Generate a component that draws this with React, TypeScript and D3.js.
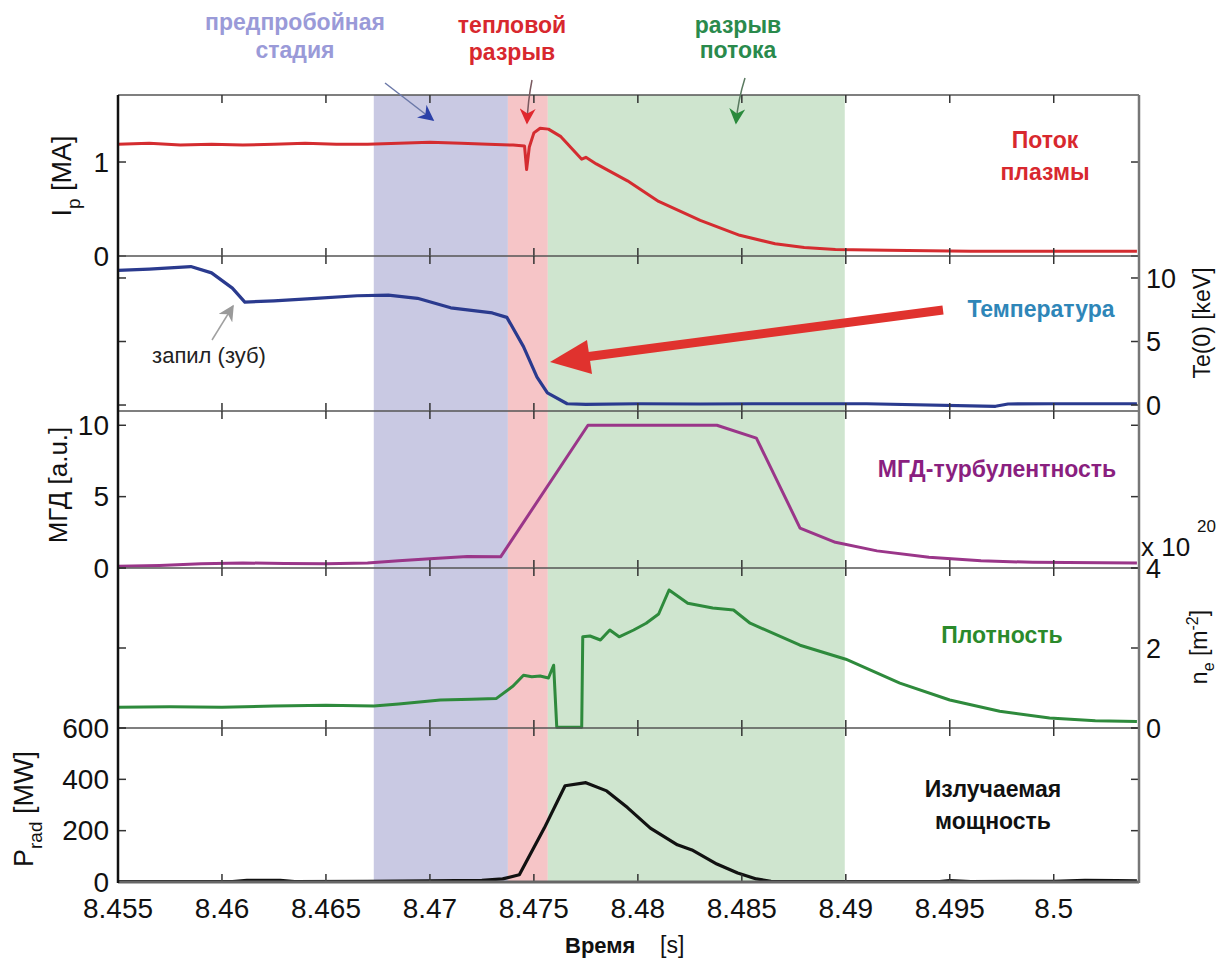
import React from 'react';
import * as d3 from 'd3';

// time axis
const timeDomain = [8.455, 8.5041];
const timeTicks = [8.455, 8.46, 8.465, 8.47, 8.475, 8.48, 8.485, 8.49, 8.495, 8.5];

// disruption phases: pre-disruption, thermal quench, current quench
const phaseStart = [8.4673, 8.47375, 8.47567];
const phaseEnd = [8.47375, 8.47567, 8.48995];
const phaseFill = ['#c9c9e3', '#f6c5c7', '#cfe5cf'];

// plasma current Ip [MA]
const ipTime = [8.455, 8.4565, 8.458, 8.4595, 8.461, 8.4625, 8.464, 8.4655, 8.467, 8.4685, 8.47, 8.4715, 8.4728, 8.474, 8.47455, 8.47465, 8.47478, 8.475, 8.4753, 8.4757, 8.4763, 8.477, 8.4773, 8.4775, 8.478, 8.4795, 8.481, 8.483, 8.4849, 8.4866, 8.488, 8.4895, 8.492, 8.496, 8.5, 8.504];
const ipValue = [1.19, 1.2, 1.18, 1.19, 1.18, 1.19, 1.2, 1.19, 1.19, 1.2, 1.21, 1.2, 1.19, 1.18, 1.17, 0.92, 1.16, 1.31, 1.36, 1.35, 1.27, 1.1, 1.03, 1.05, 0.98, 0.8, 0.58, 0.38, 0.22, 0.13, 0.09, 0.07, 0.06, 0.05, 0.05, 0.05];

// central electron temperature Te(0) [keV]
const teTime = [8.455, 8.4565, 8.4585, 8.4595, 8.4605, 8.4611, 8.4625, 8.4645, 8.4665, 8.468, 8.4694, 8.471, 8.473, 8.4737, 8.4745, 8.47515, 8.47565, 8.4766, 8.4775, 8.48, 8.483, 8.4855, 8.4875, 8.491, 8.4972, 8.4978, 8.5, 8.504];
const teValue = [10.6, 10.7, 10.9, 10.4, 9.2, 8.1, 8.2, 8.4, 8.6, 8.65, 8.4, 7.65, 7.25, 6.9, 4.6, 2.2, 0.95, 0.1, 0.05, 0.1, 0.08, 0.1, 0.1, 0.1, -0.1, 0.08, 0.1, 0.1];

// MHD activity [a.u.]
const mhdTime = [8.455, 8.457, 8.459, 8.461, 8.463, 8.465, 8.467, 8.4685, 8.47, 8.4718, 8.4734, 8.4776, 8.4838, 8.4857, 8.4878, 8.4895, 8.4915, 8.494, 8.4965, 8.499, 8.504];
const mhdValue = [0.12, 0.18, 0.3, 0.35, 0.32, 0.3, 0.35, 0.5, 0.65, 0.8, 0.78, 10.0, 10.0, 9.1, 2.8, 1.8, 1.2, 0.75, 0.5, 0.4, 0.35];

// line density ne [1e20 m^-2]
const neTime = [8.455, 8.4575, 8.46, 8.4625, 8.465, 8.4673, 8.4685, 8.4695, 8.4705, 8.472, 8.4732, 8.474, 8.4745, 8.4749, 8.4753, 8.4757, 8.47595, 8.4761, 8.4773, 8.47735, 8.4777, 8.4782, 8.47865, 8.4791, 8.4798, 8.4804, 8.481, 8.4815, 8.4824, 8.4836, 8.4846, 8.4854, 8.4878, 8.49, 8.4926, 8.495, 8.4974, 8.4998, 8.502, 8.504];
const neValue = [0.52, 0.53, 0.52, 0.55, 0.57, 0.55, 0.6, 0.65, 0.7, 0.72, 0.74, 1.05, 1.32, 1.28, 1.3, 1.25, 1.57, 0.02, 0.02, 2.28, 2.3, 2.2, 2.45, 2.28, 2.45, 2.62, 2.85, 3.45, 3.12, 3.0, 2.95, 2.62, 2.07, 1.72, 1.12, 0.7, 0.42, 0.25, 0.18, 0.16];

// radiated power Prad [MW]
const pTime = [8.455, 8.4605, 8.4612, 8.4628, 8.4635, 8.467, 8.47, 8.4725, 8.4735, 8.4743, 8.4755, 8.4765, 8.4775, 8.4785, 8.4795, 8.4806, 8.4819, 8.4826, 8.4838, 8.4848, 8.4857, 8.4864, 8.49, 8.4945, 8.495, 8.496, 8.5, 8.5015, 8.503, 8.504];
const pValue = [2, 2, 6, 6, 2, 3, 4, 6, 12, 28, 210, 375, 387, 355, 290, 210, 145, 125, 70, 35, 12, 3, 2, 2, 5, 2, 3, 6, 5, 4];

const ipTicks = [0, 1];
const teTicks = [0, 5, 10];
const mhdTicks = [0, 5, 10];
const neTicks = [0, 2, 4];
const pTicks = [0, 200, 400, 600];

const font = '"Liberation Sans", Arial, sans-serif';
const L = 118;
const R = 1139;

const App = () => {
  const x = d3.scaleLinear().domain(timeDomain).range([L, R]);

  const panels = [
    { top: 95, bottom: 256, domain: [0, 1.713], ticks: ipTicks, side: 'left', color: '#d42c30', width: 3, time: ipTime, value: ipValue },
    { top: 256, bottom: 411, domain: [-0.47, 11.73], ticks: teTicks, side: 'right', color: '#2a3a8e', width: 3.2, time: teTime, value: teValue },
    { top: 411, bottom: 568, domain: [0, 11], ticks: mhdTicks, side: 'left', color: '#9a3689', width: 3, time: mhdTime, value: mhdValue },
    { top: 568, bottom: 728, domain: [0, 4], ticks: neTicks, side: 'right', color: '#2e8a3c', width: 3, time: neTime, value: neValue },
    { top: 728, bottom: 882, domain: [0, 600], ticks: pTicks, side: 'left', color: '#111111', width: 3.2, time: pTime, value: pValue },
  ];

  const tick = 8;

  return (
    <svg width={1227} height={958} style={{ position: 'absolute', left: 0, top: 0, background: '#fff' }} fontFamily={font}>
      <defs>
        {[['hb', '#2b40a8'], ['hr', '#e0282e'], ['hg', '#2a8a3c'], ['hk', '#9a9a9a']].map(([id, c]) => (
          <marker key={id} id={id} viewBox="0 0 10 10" refX={9} refY={5} markerWidth={16} markerHeight={16} markerUnits="userSpaceOnUse" orient="auto">
            <path d="M0,0 L10,5 L0,10 L3,5 z" fill={c} />
          </marker>
        ))}
      </defs>

      {/* phase shading */}
      {phaseStart.map((s, i) => (
        <rect key={i} x={x(s)} y={95} width={x(phaseEnd[i]) - x(s)} height={882 - 95} fill={phaseFill[i]} />
      ))}

      {panels.map((p, pi) => {
        const y = d3.scaleLinear().domain(p.domain).range([p.bottom, p.top]);
        const line = d3.line<number>().x((_, i) => x(p.time[i])).y(d => y(d));
        return (
          <g key={pi}>
            <path d={line(p.value) || ''} fill="none" stroke={p.color} strokeWidth={p.width} strokeLinejoin="round" />
            {/* panel top border */}
            <line x1={L} x2={R} y1={p.top} y2={p.top} stroke="#555" strokeWidth={1.5} />
            {/* x ticks at top and bottom of panel */}
            {timeTicks.map((t, i) => (
              <g key={i} stroke="#333" strokeWidth={1.5}>
                <line x1={x(t)} x2={x(t)} y1={p.top} y2={p.top + tick} />
                <line x1={x(t)} x2={x(t)} y1={p.bottom} y2={p.bottom - tick} />
              </g>
            ))}
            {/* y ticks both sides */}
            {p.ticks.map((v, i) => (
              <g key={i}>
                <line x1={L} x2={L + tick} y1={y(v)} y2={y(v)} stroke="#333" strokeWidth={1.5} />
                <line x1={R} x2={R - tick} y1={y(v)} y2={y(v)} stroke="#333" strokeWidth={1.5} />
                {p.side === 'left' ? (
                  <text x={L - 9} y={y(v)} dy="0.34em" textAnchor="end" fontSize={28} fill="#111">{v}</text>
                ) : (
                  <text x={R + 7} y={y(v)} dy="0.36em" textAnchor="start" fontSize={27} fill="#111">{v}</text>
                )}
              </g>
            ))}
          </g>
        );
      })}

      {/* frame */}
      <line x1={L} x2={R} y1={882} y2={882} stroke="#666" strokeWidth={3} />
      <line x1={L} x2={L} y1={95} y2={883} stroke="#111" strokeWidth={2.5} />
      <line x1={R} x2={R} y1={95} y2={883} stroke="#777" strokeWidth={2.5} />

      {/* x tick labels */}
      {timeTicks.map((t, i) => (
        <text key={i} x={x(t)} y={918} textAnchor="middle" fontSize={28} fill="#111">{String(t)}</text>
      ))}
      <text x={565} y={953} fontSize={22} fontWeight="bold" fill="#111">Время</text>
      <text x={660} y={953} fontSize={23} fill="#111">[s]</text>

      {/* left axis labels */}
      <text transform="translate(71,176) rotate(-90)" textAnchor="middle" fontSize={27} fill="#111">
        I<tspan dy={9} fontSize={19}>p</tspan><tspan dy={-9}> [MA]</tspan>
      </text>
      <text transform="translate(67,485) rotate(-90)" textAnchor="middle" fontSize={26} fill="#111">МГД [a.u.]</text>
      <text transform="translate(33,809) rotate(-90)" textAnchor="middle" fontSize={27} fill="#111">
        P<tspan dy={9} fontSize={19}>rad</tspan><tspan dy={-9}> [MW]</tspan>
      </text>

      {/* right axis labels */}
      <text transform="translate(1210,323) rotate(-90)" textAnchor="middle" fontSize={23} fill="#111">Te(0) [keV]</text>
      <text transform="translate(1207,647) rotate(-90)" textAnchor="middle" fontSize={23} fill="#111">
        n<tspan dy={7} fontSize={16}>e</tspan><tspan dy={-7}> [m</tspan><tspan dy={-9} fontSize={16}>-2</tspan><tspan dy={9}>]</tspan>
      </text>
      <text x={1141} y={556} fontSize={26} fill="#111">x 10</text>
      <text x={1197} y={532} fontSize={17} fill="#111">20</text>

      {/* phase titles */}
      <g fontWeight="bold" fontSize={23} textAnchor="middle">
        <text x={295} y={30} fill="#9a9ad8">предпробойная</text>
        <text x={295} y={58} fill="#9a9ad8">стадия</text>
        <text x={512} y={33} fill="#d8282e">тепловой</text>
        <text x={512} y={60} fill="#d8282e">разрыв</text>
        <text x={738} y={33} fill="#2a8a4c">разрыв</text>
        <text x={738} y={58} fill="#2a8a4c">потока</text>
      </g>
      <line x1={385} y1={83} x2={433} y2={120} stroke="#6b78a8" strokeWidth={1.5} markerEnd="url(#hb)" />
      <path d="M532,80 Q528,100 527,123" fill="none" stroke="#7a5a60" strokeWidth={1.5} markerEnd="url(#hr)" />
      <path d="M745,78 Q738,100 736,123" fill="none" stroke="#5a7a60" strokeWidth={1.5} markerEnd="url(#hg)" />

      {/* signal names */}
      <g fontWeight="bold" fontSize={23} textAnchor="middle">
        <text x={1045} y={148} fill="#d8282e">Поток</text>
        <text x={1045} y={180} fill="#d8282e">плазмы</text>
        <text x={1041} y={317} fill="#2e86b8">Температура</text>
        <text x={997} y={477} fill="#8a1f7f">МГД-турбулентность</text>
        <text x={1002} y={643} fill="#2b8a2b">Плотность</text>
        <text x={993} y={797} fill="#111">Излучаемая</text>
        <text x={993} y={829} fill="#111">мощность</text>
      </g>

      {/* sawtooth note */}
      <text x={209} y={363} textAnchor="middle" fontSize={22} fill="#222">запил (зуб)</text>
      <line x1={212} y1={340} x2={233} y2={306} stroke="#a0a0a0" strokeWidth={1.5} markerEnd="url(#hk)" />

      {/* big red arrow towards temperature collapse */}
      <line x1={943} y1={310} x2={585} y2={357} stroke="#e0322e" strokeWidth={9} />
      <polygon points="550,362 592,374 587,340" fill="#e0322e" />
    </svg>
  );
};

export default App;
